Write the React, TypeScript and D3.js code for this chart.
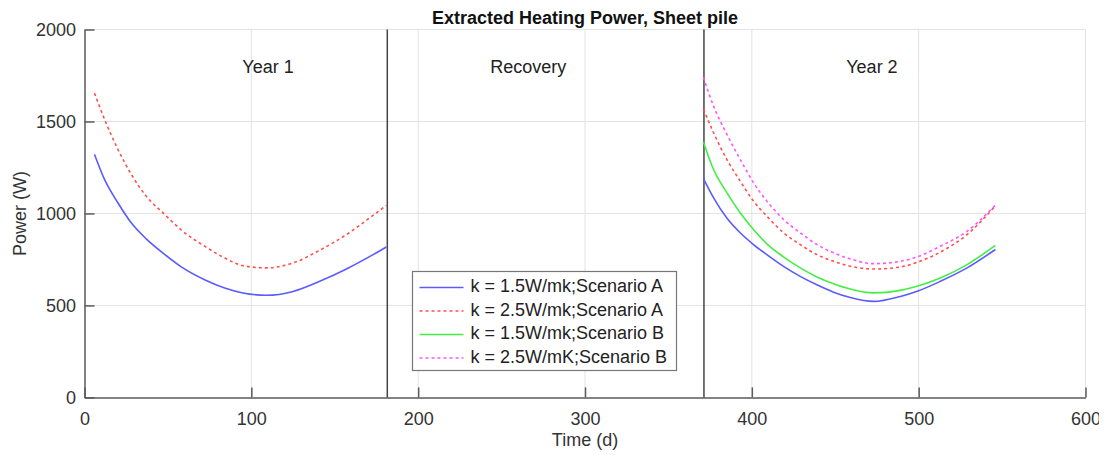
import React, { useEffect, useRef } from "react";
import * as d3 from "d3";

// days for each year
const year1Days = [6, 12, 20, 28, 37, 48, 58, 72, 84, 95, 109, 125, 141, 157, 173, 181];
const year2Days = [371, 377, 385, 393, 401, 409, 419, 429, 439, 449, 459, 473, 489, 500, 513, 529, 546];

// power values (W)
const blueA1 = [1321, 1185, 1058, 949, 862, 778, 710, 640, 595, 568, 555, 576, 631, 698, 776, 818];
const redA1 = [1654, 1512, 1349, 1213, 1094, 995, 910, 822, 758, 716, 704, 731, 800, 885, 990, 1044];
const blueA2 = [1189, 1086, 975, 895, 831, 776, 712, 658, 612, 572, 543, 522, 549, 580, 631, 704, 804];
const redA2 = [1567, 1440, 1294, 1176, 1067, 985, 895, 831, 776, 740, 713, 698, 709, 737, 790, 885, 1042];
const greenB2 = [1389, 1240, 1113, 1004, 913, 835, 764, 704, 655, 618, 589, 568, 582, 607, 649, 722, 826];
const magentaB2 = [1740, 1585, 1431, 1294, 1167, 1067, 967, 895, 831, 786, 753, 727, 740, 767, 822, 903, 1045];

const legendLabels = [
  "k = 1.5W/mk;Scenario A",
  "k = 2.5W/mk;Scenario A",
  "k = 1.5W/mk;Scenario B",
  "k = 2.5W/mK;Scenario B",
];

const xTicks = [0, 100, 200, 300, 400, 500, 600];
const yTicks = [0, 500, 1000, 1500, 2000];
const dividers = [181.5, 371.3];
const periodLabels = ["Year 1", "Recovery", "Year 2"];
const periodX = [110, 266, 472];
const periodY = 1792;

const App = () => {
  const ref = useRef(null);
  const width = 1099;
  const height = 447;
  const margin = { top: 21.5, right: 21.5, bottom: 57.6, left: 76.5 };

  useEffect(() => {
    const svg = d3.select(ref.current);
    svg.selectAll("*").remove();
    const font = "'Liberation Sans', Arial, sans-serif";
    const axisColor = "#5a5a5a";

    const x = d3.scaleLinear().domain([0, 600]).range([margin.left, width - margin.right]);
    const y = d3.scaleLinear().domain([0, 2000]).range([height - margin.bottom, margin.top]);

    // grid
    const grid = svg.append("g").attr("stroke", "#e3e3e3").attr("stroke-width", 1);
    xTicks.slice(1).forEach((t) => {
      grid.append("line").attr("x1", x(t)).attr("x2", x(t)).attr("y1", y(0)).attr("y2", y(2000));
    });
    yTicks.slice(1).forEach((t) => {
      grid.append("line").attr("x1", x(0)).attr("x2", x(600)).attr("y1", y(t)).attr("y2", y(t));
    });

    // axes
    const xAxis = svg
      .append("g")
      .attr("transform", `translate(0,${y(0)})`)
      .call(
        d3.axisBottom(x).tickValues(xTicks).tickFormat(d3.format("d")).tickSizeInner(-10).tickSizeOuter(0).tickPadding(15)
      );
    const yAxis = svg
      .append("g")
      .attr("transform", `translate(${x(0)},0)`)
      .call(
        d3.axisLeft(y).tickValues(yTicks).tickFormat(d3.format("d")).tickSizeInner(-10).tickSizeOuter(0).tickPadding(8.5)
      );
    [xAxis, yAxis].forEach((a) => {
      a.select(".domain").attr("stroke", axisColor).attr("stroke-width", 1.5);
      a.selectAll(".tick line").attr("stroke", axisColor).attr("stroke-width", 1.5);
      a.selectAll(".tick text")
        .attr("fill", "#333")
        .style("font-family", font)
        .style("font-size", "18px");
    });

    // dividers
    dividers.forEach((d) => {
      svg
        .append("line")
        .attr("x1", x(d))
        .attr("x2", x(d))
        .attr("y1", y(0))
        .attr("y2", y(2000))
        .attr("stroke", "#444")
        .attr("stroke-width", 1.5);
    });

    const line = d3
      .line()
      .x((d) => x(d[0]))
      .y((d) => y(d[1]))
      .curve(d3.curveMonotoneX);

    const series = [
      { days: year1Days, vals: blueA1, color: "#5b5bff", dash: null },
      { days: year1Days, vals: redA1, color: "#ff5050", dash: "3,3" },
      { days: year2Days, vals: blueA2, color: "#5b5bff", dash: null },
      { days: year2Days, vals: redA2, color: "#ff5050", dash: "3,3" },
      { days: year2Days, vals: greenB2, color: "#44ee44", dash: null },
      { days: year2Days, vals: magentaB2, color: "#ff55ff", dash: "3,3" },
    ];
    series.forEach((s) => {
      svg
        .append("path")
        .datum(s.days.map((d, i) => [d, s.vals[i]]))
        .attr("fill", "none")
        .attr("stroke", s.color)
        .attr("stroke-width", 1.6)
        .attr("stroke-dasharray", s.dash)
        .attr("d", line);
    });

    // period labels
    periodLabels.forEach((t, i) => {
      svg
        .append("text")
        .attr("x", x(periodX[i]))
        .attr("y", y(periodY))
        .attr("text-anchor", "middle")
        .attr("dominant-baseline", "middle")
        .style("font-family", font)
        .style("font-size", "18px")
        .attr("fill", "#222")
        .text(t);
    });

    // title and labels
    svg
      .append("text")
      .attr("x", (x(0) + x(600)) / 2)
      .attr("y", 16)
      .attr("text-anchor", "middle")
      .style("font-family", font)
      .style("font-size", "18px")
      .style("font-weight", "bold")
      .attr("fill", "#111")
      .text("Extracted Heating Power, Sheet pile");
    svg
      .append("text")
      .attr("x", (x(0) + x(600)) / 2)
      .attr("y", 438)
      .attr("text-anchor", "middle")
      .style("font-family", font)
      .style("font-size", "18px")
      .attr("fill", "#333")
      .text("Time (d)");
    svg
      .append("text")
      .attr("transform", `translate(18,${(y(0) + y(2000)) / 2}) rotate(-90)`)
      .attr("text-anchor", "middle")
      .style("font-family", font)
      .style("font-size", "18px")
      .attr("fill", "#333")
      .text("Power (W)");

    // legend
    const lg = svg.append("g").attr("transform", "translate(404.5,263.5)");
    lg.append("rect")
      .attr("width", 264)
      .attr("height", 99)
      .attr("fill", "#fff")
      .attr("stroke", "#777")
      .attr("stroke-width", 1.2);
    const legendColors = ["#5b5bff", "#ff5050", "#44ee44", "#ff55ff"];
    const legendDash = [null, "3,3", null, "3,3"];
    legendLabels.forEach((t, i) => {
      const ly = 16 + i * 23.5;
      lg.append("line")
        .attr("x1", 7)
        .attr("x2", 51)
        .attr("y1", ly)
        .attr("y2", ly)
        .attr("stroke", legendColors[i])
        .attr("stroke-width", 1.6)
        .attr("stroke-dasharray", legendDash[i]);
      lg.append("text")
        .attr("x", 58)
        .attr("y", ly)
        .attr("dominant-baseline", "middle")
        .style("font-family", font)
        .style("font-size", "18px")
        .attr("fill", "#222")
        .text(t);
    });
  }, []);

  return <svg ref={ref} width={width} height={height} style={{ display: "block" }} />;
};

export default App;
